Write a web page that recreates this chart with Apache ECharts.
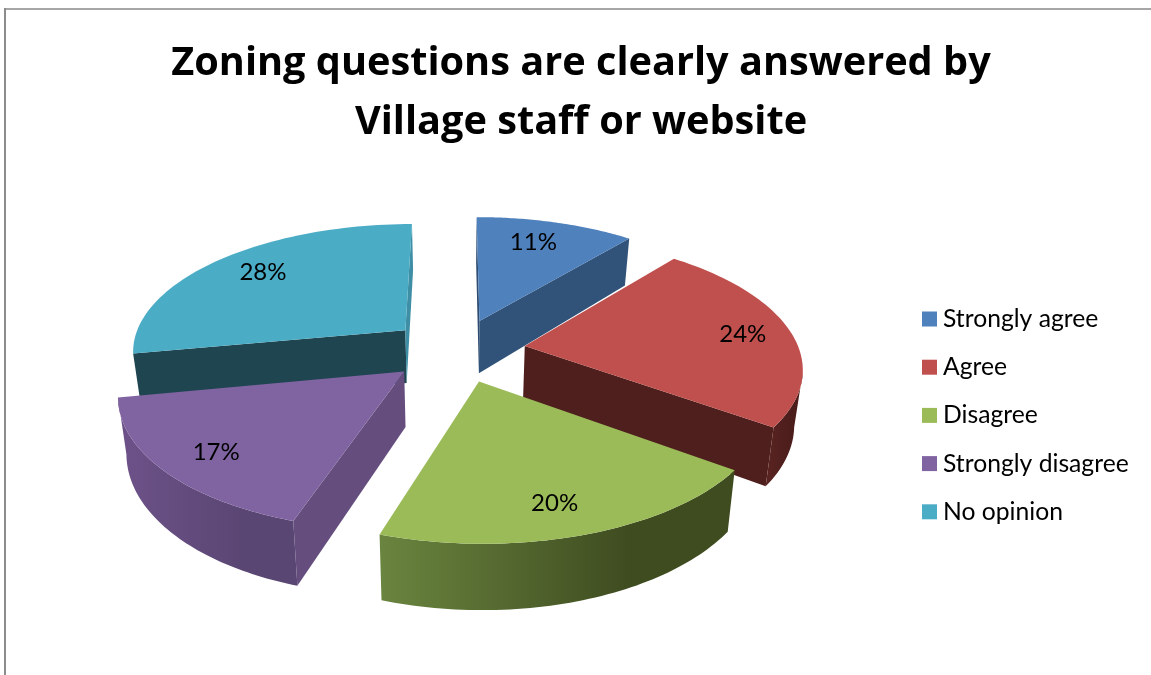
<!DOCTYPE html>
<html>
<head>
<meta charset="utf-8">
<script src="https://cdn.jsdelivr.net/npm/echarts@6/dist/echarts.min.js"></script>
<style>
  html, body { margin: 0; padding: 0; background: #fff; }
  #chart { width: 1151px; height: 675px; }
</style>
</head>
<body>
<div id="chart"></div>
<script>
// chart data
var categories = ["Strongly agree", "Agree", "Disagree", "Strongly disagree", "No opinion"];
var shares = [11, 24, 20, 17, 28];

// top face, flat cut walls (start and end side), outer wall (left and right end of its gradient)
var topColors = ["#4f81bd", "#c0504d", "#9bbb59", "#8064a2", "#4bacc6"];
var cutColors = ["#2f4d72", "#4f1f1d", "#3f4c20", "#654e7e", "#1f4550"];
var endCutColors = ["#325379", "#4f1f1d", "#3f4c20", "#654e7e", "#3e8ea5"];
var wallLeft = ["#325379", "#5a2422", "#6a853f", "#6d5289", "#2a6273"];
var wallRight = ["#2a4666", "#4b1d1b", "#3f4c20", "#5a4673", "#1f4550"];

// projection of the tilted pie onto the page
var cx = 457, cy = 350;
var scaleX = 274.5, scaleY = 127.5, persp = 0.15;
var depth = 54, bottomShrink = 0.975;
var explode = 0.25, labelRadius = 0.79;
// hand placed label shift, per slice
var labelShiftX = [-8, 8, -6, -2, 6];
var labelShiftY = [1, 1, 5, 4, -1];

var total = shares.reduce(function (a, b) { return a + b; }, 0);

// cumulative start angle of every slice, clockwise from 12 o'clock
var startAngles = [];
var running = 0;
shares.forEach(function (s) {
  startAngles.push((running / total) * Math.PI * 2);
  running += s;
});

function project(u, v, bottom) {
  var w = 1 - persp * v;
  var x = (scaleX * u) / w;
  var y = (scaleY * v) / w;
  if (bottom) {
    return [cx + x * bottomShrink, cy + y + depth / w];
  }
  return [cx + x, cy + y];
}

function renderSlice(params, api) {
  var i = params.seriesIndex;
  var a0 = startAngles[i];
  var sweep = (api.value(0) / total) * Math.PI * 2;
  var a1 = a0 + sweep;
  var mid = a0 + sweep / 2;
  var apexU = Math.sin(mid) * explode;
  var apexV = -Math.cos(mid) * explode;
  var camV = 1 / persp;
  var children = [];

  // flat cut walls, only the ones that face the viewer
  [[a0, -1, cutColors[i]], [a1, 1, endCutColors[i]]].forEach(function (cut) {
    var a = cut[0];
    var nu = Math.cos(a) * cut[1];
    var nv = Math.sin(a) * cut[1];
    if ((0 - apexU) * nu + (camV - apexV) * nv <= 0) return;
    var eu = apexU + Math.sin(a);
    var ev = apexV - Math.cos(a);
    children.push({
      type: "polygon",
      shape: { points: [
        project(apexU, apexV), project(eu, ev),
        project(eu, ev, true), project(apexU, apexV, true)
      ] },
      style: { fill: cut[2] }
    });
  });

  // outer wall and top face
  var topPts = [project(apexU, apexV)];
  var wallTop = [], wallBottom = [];
  var steps = 60;
  for (var k = 0; k <= steps; k++) {
    var a = a0 + (sweep * k) / steps;
    var pu = apexU + Math.sin(a);
    var pv = apexV - Math.cos(a);
    topPts.push(project(pu, pv));
    if ((0 - pu) * Math.sin(a) + (camV - pv) * -Math.cos(a) > 0) {
      wallTop.push(project(pu, pv));
      wallBottom.unshift(project(pu, pv, true));
    }
  }
  if (wallTop.length > 1) {
    var pts = wallTop.concat(wallBottom);
    var xs = pts.map(function (p) { return p[0]; });
    children.push({
      type: "polygon",
      shape: { points: pts },
      style: {
        fill: {
          type: "linear",
          x: Math.min.apply(null, xs), y: 0,
          x2: Math.max.apply(null, xs), y2: 0,
          global: true,
          colorStops: [
            { offset: 0, color: wallLeft[i] },
            { offset: 0.7, color: wallRight[i] },
            { offset: 1, color: wallRight[i] }
          ]
        }
      }
    });
  }
  children.push({
    type: "polygon",
    shape: { points: topPts },
    style: { fill: topColors[i] }
  });

  // percent label sits on the top face
  var lab = project(
    apexU + Math.sin(mid) * labelRadius,
    apexV - Math.cos(mid) * labelRadius
  );
  children.push({
    type: "text",
    style: {
      text: Math.round((api.value(0) / total) * 100) + "%",
      x: lab[0] + labelShiftX[i],
      y: lab[1] + labelShiftY[i],
      fill: "#000",
      font: '24px Lato',
      align: "center",
      verticalAlign: "middle"
    }
  });

  return { type: "group", children: children };
}

// paint order: slices further back first
var depthOrder = categories.map(function (c, i) {
  return -Math.cos(startAngles[i] + (shares[i] / total) * Math.PI);
});

var option = {
  animation: false,
  backgroundColor: "#fff",
  title: {
    text: "Zoning questions are clearly answered by\nVillage staff or website",
    left: 576,
    top: 29,
    textAlign: "center",
    textStyle: {
      fontFamily: "Open Sans",
      fontWeight: "bold",
      fontSize: 39.7,
      lineHeight: 59,
      color: "#000"
    }
  },
  legend: {
    orient: "vertical",
    left: 922,
    top: 306.5,
    padding: 0,
    icon: "rect",
    itemWidth: 15,
    itemHeight: 15,
    itemGap: 23.2,
    data: categories,
    textStyle: { fontFamily: "Lato", fontSize: 24.7, lineHeight: 23, color: "#000", padding: [0, 0, 0, 1] }
  },
  graphic: [
    { type: "line", shape: { x1: 4, y1: 9, x2: 1151, y2: 9 }, style: { stroke: "#a6a6a6", lineWidth: 2 } },
    { type: "line", shape: { x1: 5, y1: 8, x2: 5, y2: 675 }, style: { stroke: "#8c8c8c", lineWidth: 2 } }
  ],
  series: categories.map(function (name, i) {
    return {
      type: "custom",
      name: name,
      coordinateSystem: "none",
      renderItem: renderSlice,
      z: 2 + depthOrder[i],
      itemStyle: { color: topColors[i] },
      silent: true,
      data: [[shares[i]]]
    };
  })
};

var myChart = echarts.init(document.getElementById("chart"));
myChart.setOption(option);
</script>
</body>
</html>
